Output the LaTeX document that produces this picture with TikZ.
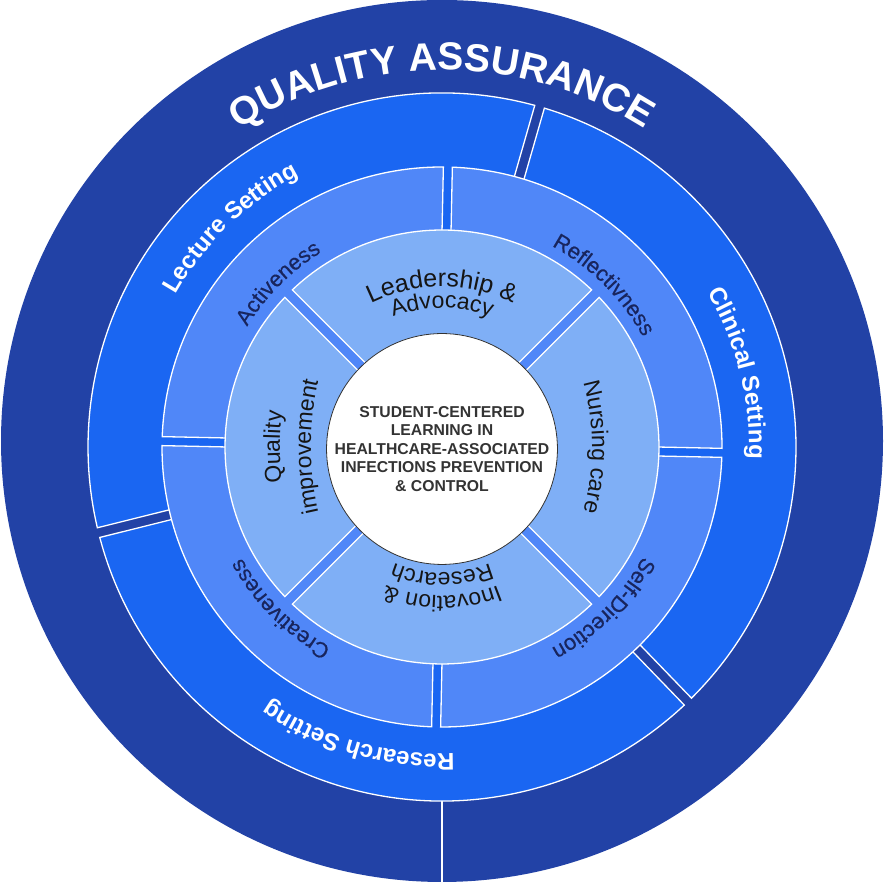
\documentclass[tikz,border=0pt]{standalone}
\usepackage{fontspec}
\setmainfont{Liberation Sans}
\newfontfamily\medfont[FakeBold=0.4]{Liberation Sans}
\usetikzlibrary{decorations.text,calc}
\definecolor{qdark}{HTML}{2242A6}
\definecolor{qbright}{HTML}{1A66F2}
\definecolor{qmed}{HTML}{5087F8}
\definecolor{qlight}{HTML}{7FAFF6}
\definecolor{qnavy}{HTML}{18255E}
\definecolor{qgray}{HTML}{333333}
\definecolor{qink}{HTML}{151515}
% annular segment with constant-width gaps: style, r_in, r_out, a1, a2, half-gap
\newcommand\annseg[6]{%
  \path[#1] ({#4+asin(#6/#3)}:#3) arc[start angle={#4+asin(#6/#3)}, end angle={#5-asin(#6/#3)}, radius=#3]
    -- ({#5-asin(#6/#2)}:#2) arc[start angle={#5-asin(#6/#2)}, end angle={#4+asin(#6/#2)}, radius=#2] -- cycle;}
% clockwise text on an arc: baseline distance b, centre angle, arc radius R, format, text
\newcommand\arctext[5]{%
  \path[decorate, decoration={text along path, text align=center, text={|#4|#5}}]
    ($(#2:#1)-(#2:#3)+({#2+70}:#3)$) arc[start angle={#2+70}, end angle={#2-70}, radius=#3];}
\tikzset{
  seg/.style={draw=white, line width=1.3pt, line join=miter},
  r4/.style={seg, fill=qbright},
  r3/.style={seg, fill=qmed},
  r2/.style={seg, fill=qlight},
}
\newcommand\fsetting{\color{white}\bfseries\fontsize{24}{24}\selectfont}
\newcommand\fmid{\color{qnavy}\medfont\fontsize{22}{22}\selectfont}
\newcommand\finner{\color{qink}\fontsize{23}{23}\selectfont}
\begin{document}
\begin{tikzpicture}[x=1pt, y=1pt]
\useasboundingbox (0,0) rectangle (884,882);
% outer ring
\fill[qdark] (442,441) circle[radius=441];
\coordinate (btop) at (442,81);
\coordinate (bbot) at (442,0);
\draw[white, line width=1.3pt] (btop) -- (bbot);
\begin{scope}[shift={(442,435)}]
  % ring 4: settings
  \annseg{r4}{100}{354}{74}{194}{5}
  \annseg{r4}{100}{354}{194}{314}{5}
  \annseg{r4}{100}{354}{-46}{74}{5}
  % ring 3
  \annseg{r3}{100}{280}{-1.2}{88.8}{4.5}
  \annseg{r3}{100}{280}{88.8}{178.8}{4.5}
  \annseg{r3}{100}{280}{178.8}{268.8}{4.5}
  \annseg{r3}{100}{280}{268.8}{358.8}{4.5}
  % ring 2
  \annseg{r2}{100}{217}{45}{135}{5.3}
  \annseg{r2}{100}{217}{135}{225}{5.3}
  \annseg{r2}{100}{217}{225}{315}{5.3}
  \annseg{r2}{100}{217}{-45}{45}{5.3}
  % title
  \arctext{377}{90}{377}{\color{white}\bfseries\fontsize{39}{39}\selectfont}{QUALITY ASSURANCE}
  % ring 4 labels
  \arctext{307}{134}{307}{\fsetting}{Lecture Setting}
  \arctext{307}{14}{307}{\fsetting}{Clinical Setting}
  \arctext{307}{254}{307}{\fsetting}{Research Setting}
  % ring 3 labels
  \arctext{229}{135}{229}{\fmid}{Activeness}
  \arctext{229}{45}{229}{\fmid}{Reflectivness}
  \arctext{229}{-45}{229}{\fmid}{Self-Direction}
  \arctext{229}{225}{229}{\fmid}{Creativeness}
  % ring 2 labels
  \arctext{160}{90}{160}{\color{qink}\fontsize{25}{25}\selectfont}{Leadership {\&}}
  \arctext{139}{90}{139}{\finner}{Advocacy}
  \arctext{150}{0}{240}{\finner}{Nursing care}
  \arctext{149}{270}{149}{\finner}{Inovation {\&}}
  \arctext{126}{270}{126}{\finner}{Research}
  \arctext{162}{180}{330}{\finner}{Quality}
  \arctext{131}{180}{299}{\finner}{improvement}
\end{scope}
% centre
\node[circle, fill=white, draw=qgray, line width=0.8pt, minimum size=228pt, inner sep=0pt,
      align=center, text=qgray, font=\bfseries\fontsize{15.75}{18.5}\selectfont] (core) at (442,433)
  {STUDENT-CENTERED\\LEARNING IN\\HEALTHCARE-ASSOCIATED\\INFECTIONS PREVENTION\\\& CONTROL};
\end{tikzpicture}
\end{document}
